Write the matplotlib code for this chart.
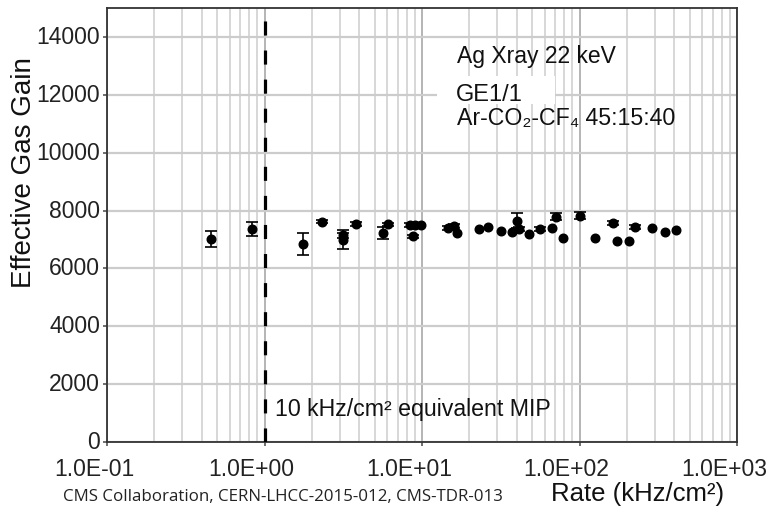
import numpy as np
import matplotlib
matplotlib.use("Agg")
import matplotlib.pyplot as plt
from matplotlib.ticker import LogLocator, NullFormatter, FixedLocator
from matplotlib.patches import Rectangle
import matplotlib.transforms as mtransforms

# ---- data ----
rate = [0.459, 0.836, 1.76, 2.33, 3.16, 3.14, 3.83, 5.68, 6.05, 8.34, 8.74, 9.0,
        9.8, 14.6, 16.0, 16.7, 23.1, 26.4, 31.7, 37.5, 40.1, 41.4, 48.0, 56.4,
        66.5, 71.3, 78.7, 100.9, 125.6, 162.8, 173.9, 205.4, 226.2, 286.6, 347.9, 410.0]
gain = [7017, 7363, 6844, 7615, 7140, 6990, 7536, 7214, 7518, 7501, 7104, 7484,
        7501, 7397, 7467, 7214, 7346, 7432, 7276, 7270, 7650, 7363, 7183, 7363,
        7387, 7778, 7059, 7823, 7052, 7570, 6958, 6958, 7432, 7387, 7270, 7311]
gain_err = [270, 230, 380, 60, 80, 330, 60, 200, 60, 60, 60, 60,
            0, 60, 60, 0, 0, 0, 0, 0, 250, 60, 0, 60,
            0, 120, 0, 120, 0, 80, 0, 0, 60, 0, 0, 0]
mip_line_rate = 1.0
x_ticks = [0.1, 1, 10, 100, 1000]
x_tick_labels = ["1.0E-01", "1.0E+00", "1.0E+01", "1.0E+02", "1.0E+03"]
y_ticks = [0, 2000, 4000, 6000, 8000, 10000, 12000, 14000]

W, H = 769, 510
fig = plt.figure(figsize=(W / 100, H / 100), dpi=100)
FONT = ["Liberation Sans", "DejaVu Sans"]
plt.rcParams["font.family"] = FONT

L, R, B, T = 107, 737, 443, 9
ax = fig.add_axes([L / W, 1 - B / H, (R - L) / W, (B - T) / H])
ax.set_xscale("log")
ax.set_xlim(0.1, 1000)
ax.set_ylim(0, 15000)

# grid
ax.xaxis.set_major_locator(FixedLocator(x_ticks))
ax.xaxis.set_minor_locator(LogLocator(base=10, subs=np.arange(2, 10)))
ax.xaxis.set_minor_formatter(NullFormatter())
ax.set_xticks(x_ticks)
ax.set_xticklabels(x_tick_labels)
ax.set_yticks(y_ticks)
ax.set_yticklabels([str(v) for v in y_ticks])
ax.grid(True, which="minor", axis="x", color="#d4d4d4", lw=1.3, zorder=0)
ax.grid(True, which="major", axis="x", color="#b4b4b4", lw=1.4, zorder=0)
ax.grid(True, which="major", axis="y", color="#cccccc", lw=1.6, zorder=0)
ax.set_axisbelow(True)

for s in ax.spines.values():
    s.set_color("#333333")
    s.set_linewidth(1.3)

ax.tick_params(axis="y", which="major", direction="out", length=3, width=1.2,
               color="#555555", pad=2, labelsize=16.5, labelcolor="#222222")
ax.tick_params(axis="x", which="major", direction="out", length=3, width=1.2,
               color="#555555", pad=8, labelsize=16.5, labelcolor="#222222")
ax.tick_params(axis="x", which="minor", length=0)

offset = mtransforms.ScaledTranslation(-13 / 100, 0, fig.dpi_scale_trans)
for lab in ax.get_xticklabels():
    lab.set_transform(lab.get_transform() + offset)
offy = mtransforms.ScaledTranslation(0, 3 / 100, fig.dpi_scale_trans)
for lab in ax.get_yticklabels():
    lab.set_transform(lab.get_transform() + offy)

# data
rate_a = np.array(rate)
gain_a = np.array(gain)
err_a = np.array(gain_err)
m = err_a > 0
ax.errorbar(rate_a[m], gain_a[m], yerr=err_a[m], fmt="none", ecolor="black",
            elinewidth=1.2, capsize=4, capthick=1.2, zorder=3)
ax.plot(rate_a, gain_a, "o", color="black", ms=6.2, zorder=4)

# MIP dashed line
ax.axvline(mip_line_rate, color="black", lw=2.3, dashes=(4.4, 4.7), zorder=5)
ax.text(1.17, 1150, "10 kHz/cm² equivalent MIP", fontsize=16.7, va="center",
        ha="left", color="#111111", zorder=6)

# annotations
ax.add_patch(Rectangle((0.524, 0.779), 0.187, 0.064, transform=ax.transAxes,
                       facecolor="white", edgecolor="none", zorder=1))
ax.text(0.5548, 0.8756, "Ag Xray 22 keV", transform=ax.transAxes, fontsize=16.5,
        va="baseline", ha="left", color="#111111", zorder=6)
ax.text(0.553, 0.788, "GE1/1", transform=ax.transAxes, fontsize=17,
        va="baseline", ha="left", color="#111111", zorder=6)
ax.text(0.5548, 0.7327, "Ar-CO₂-CF₄ 45:15:40", transform=ax.transAxes, fontsize=16.7,
        va="baseline", ha="left", color="#111111", zorder=6, family=FONT)

# axis titles
fig.text(24 / W, 1 - 173 / H, "Effective Gas Gain", rotation=90, ha="center",
         va="center", fontsize=20, color="#111111")
fig.text(638 / W, 1 - 494 / H, "Rate (kHz/cm²)", ha="center", va="center",
         fontsize=18.5, color="#111111")
fig.text(283 / W, 1 - 497 / H, "CMS Collaboration, CERN-LHCC-2015-012, CMS-TDR-013",
         ha="center", va="center", fontsize=12.2, color="#222222",
         family=["Open Sans", "DejaVu Sans"])

fig.savefig("out.png", dpi=100)
